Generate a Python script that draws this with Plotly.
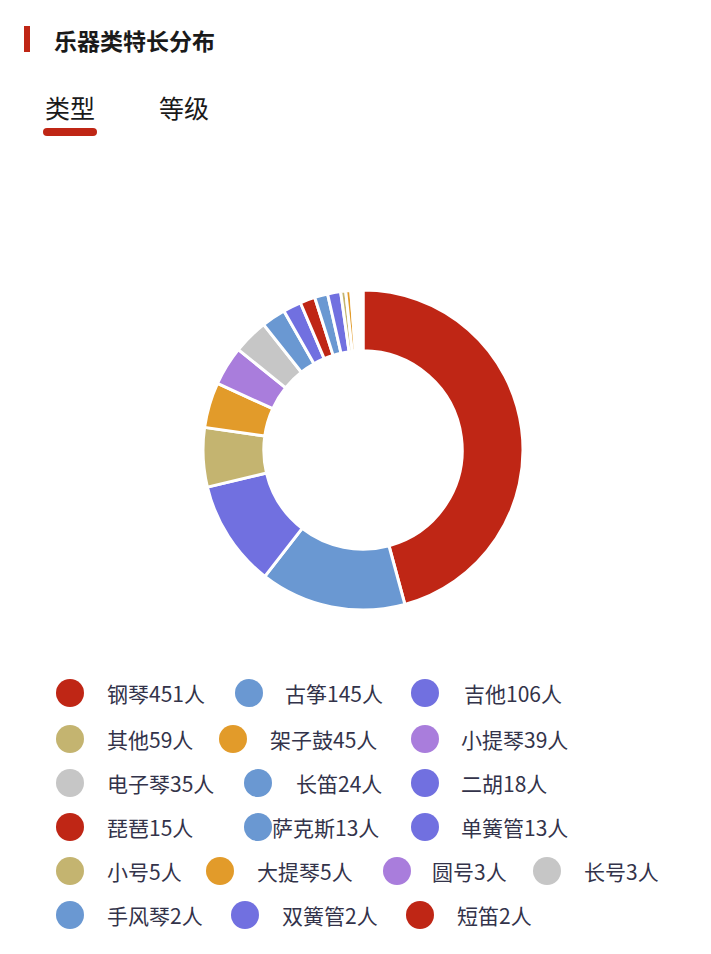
import plotly.graph_objects as go

# data
instruments = ['钢琴', '古筝', '吉他', '其他', '架子鼓', '小提琴', '电子琴', '长笛', '二胡', '琵琶',
               '萨克斯', '单簧管', '小号', '大提琴', '圆号', '长号', '手风琴', '双簧管', '短笛']
counts = [451, 145, 106, 59, 45, 39, 35, 24, 18, 15, 13, 13, 5, 5, 3, 3, 2, 2, 2]

RED, BLUE, PURPLE, OLIVE = '#bf2615', '#6a98d2', '#7170e0', '#c4b470'
ORANGE, LILAC, GRAY = '#e29b2a', '#a97ddc', '#c6c6c6'
colors = [RED, BLUE, PURPLE, OLIVE, ORANGE, LILAC, GRAY, BLUE, PURPLE, RED,
          BLUE, PURPLE, OLIVE, ORANGE, LILAC, GRAY, BLUE, PURPLE, RED]

W, H = 711, 954
OFF = 8  # page body margin


def px(x):
    return (x - OFF) / W


def py(y):
    return (H - (y - OFF)) / H


fig = go.Figure(go.Pie(
    labels=instruments, values=counts, sort=False, direction='clockwise', rotation=0,
    hole=0.62, textinfo='none', showlegend=False,
    marker=dict(colors=colors, line=dict(color='white', width=3)),
    domain=dict(x=[px(203), px(523)], y=[py(610), py(290)]),
))

shapes = []
annotations = []

# title bar + title
shapes.append(dict(type='rect', xref='paper', yref='paper', x0=px(24), x1=px(30),
                   y0=py(52), y1=py(26), fillcolor=RED, line_width=0))
annotations.append(dict(text='<b>乐器类特长分布</b>', x=px(52), y=py(40), xanchor='left',
                        yanchor='middle', showarrow=False, font=dict(size=23, color='#1a1a1a')))
# tabs
annotations.append(dict(text='类型', x=px(43), y=py(107), xanchor='left', yanchor='middle',
                        showarrow=False, font=dict(size=25, color='#1a1a1a')))
annotations.append(dict(text='等级', x=px(157), y=py(107), xanchor='left', yanchor='middle',
                        showarrow=False, font=dict(size=25, color='#1a1a1a')))
shapes.append(dict(type='rect', xref='paper', yref='paper', fillcolor=RED, line_width=0,
                   x0=px(47), x1=px(93), y0=py(136), y1=py(128)))
for cx in (47, 93):
    shapes.append(dict(type='circle', xref='paper', yref='paper', fillcolor=RED, line_width=0,
                       x0=px(cx - 4), x1=px(cx + 4), y0=py(136), y1=py(128)))

# custom legend layout (row y, circle x, text x)
rows = [
    (693, [70, 249, 425], [105, 283, 462]),
    (739, [70, 233, 425], [105, 268, 459]),
    (783, [70, 258, 425], [105, 294, 459]),
    (827, [70, 258, 425], [105, 270, 459]),
    (871, [70, 220, 397, 547], [105, 255, 430, 582]),
    (915, [70, 245, 420], [105, 280, 455]),
]
i = 0
for ry, cxs, txs in rows:
    for cx, tx in zip(cxs, txs):
        r = 14
        shapes.append(dict(type='circle', xref='paper', yref='paper', fillcolor=colors[i],
                           line_width=0, x0=px(cx - r), x1=px(cx + r),
                           y0=py(ry + r), y1=py(ry - r)))
        annotations.append(dict(text=f'{instruments[i]}{counts[i]}人', x=px(tx), y=py(ry),
                                xanchor='left', yanchor='middle', showarrow=False,
                                font=dict(size=21, color='#33334a')))
        i += 1

fig.update_layout(
    width=W, height=H, margin=dict(l=0, r=0, t=0, b=0),
    paper_bgcolor='white', plot_bgcolor='white',
    font=dict(family='Noto Sans CJK SC'),
    shapes=shapes, annotations=annotations,
)
fig.write_html('out.html')
